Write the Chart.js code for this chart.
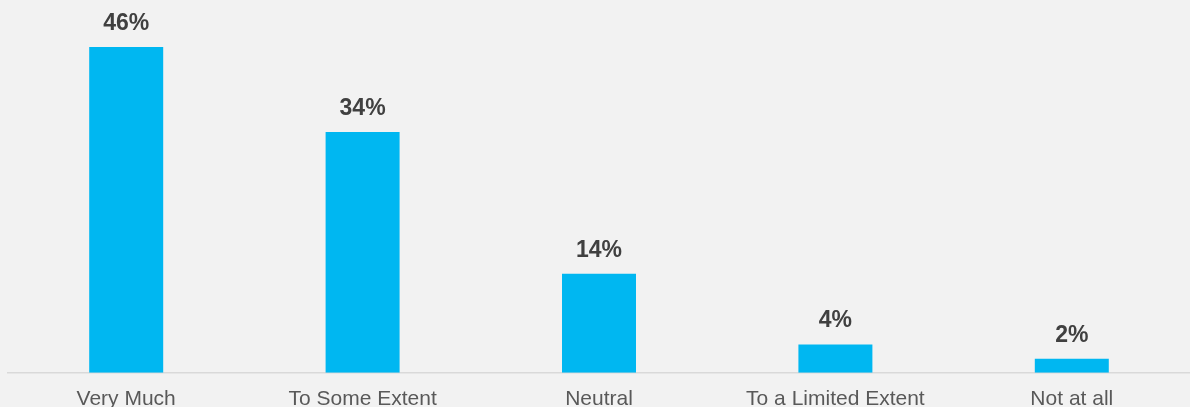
<!DOCTYPE html>
<html>
<head>
<meta charset="utf-8">
<script src="https://cdn.jsdelivr.net/npm/chart.js@4/dist/chart.umd.min.js"></script>
<style>
  html, body { margin: 0; padding: 0; background: #f2f2f2; overflow: hidden; }
  #wrap { width: 1190px; height: 426px; position: relative; }
</style>
</head>
<body>
<div id="wrap"><canvas id="extentChart"></canvas></div>
<script>
/* Response share by extent */

const categories = [
    "Very Much",
    "To Some Extent",
    "Neutral",
    "To a Limited Extent",
    "Not at all"
];

const shares = [46, 34, 14, 4, 2];

const barColor = "#00B7F1";

// percent labels above each bar
const valueLabels = {
    id: "valueLabels",
    afterDatasetsDraw(chart) {
        const ctx = chart.ctx;
        const meta = chart.getDatasetMeta(0);
        ctx.save();
        ctx.font = "bold 23px 'Liberation Sans', Arial, sans-serif";
        ctx.fillStyle = "#404040";
        ctx.textAlign = "center";
        ctx.textBaseline = "alphabetic";
        meta.data.forEach((bar, i) => {
            ctx.fillText(shares[i] + "%", bar.x, bar.y - 17);
        });
        ctx.restore();
    }
};

new Chart(document.getElementById("extentChart"), {

    type: "bar",

    data: {
        labels: categories,
        datasets: [{
            data: shares,
            backgroundColor: barColor,
            borderWidth: 0,
            categoryPercentage: 1,
            barPercentage: 0.313
        }]
    },

    options: {
        responsive: true,
        maintainAspectRatio: false,
        animation: false,
        layout: {
            padding: { left: 8, right: 0, top: 0, bottom: 0 }
        },
        scales: {
            x: {
                grid: { display: false, drawTicks: false },
                border: { display: true, color: "#d9d9d9", width: 1.5 },
                ticks: {
                    color: "#595959",
                    padding: 14,
                    font: { family: "'Liberation Sans', Arial, sans-serif", size: 21 }
                }
            },
            y: {
                display: false,
                min: 0,
                max: 52.65
            }
        },
        plugins: {
            legend: { display: false },
            tooltip: { enabled: false }
        }
    },

    plugins: [valueLabels]

});
</script>
</body>
</html>
